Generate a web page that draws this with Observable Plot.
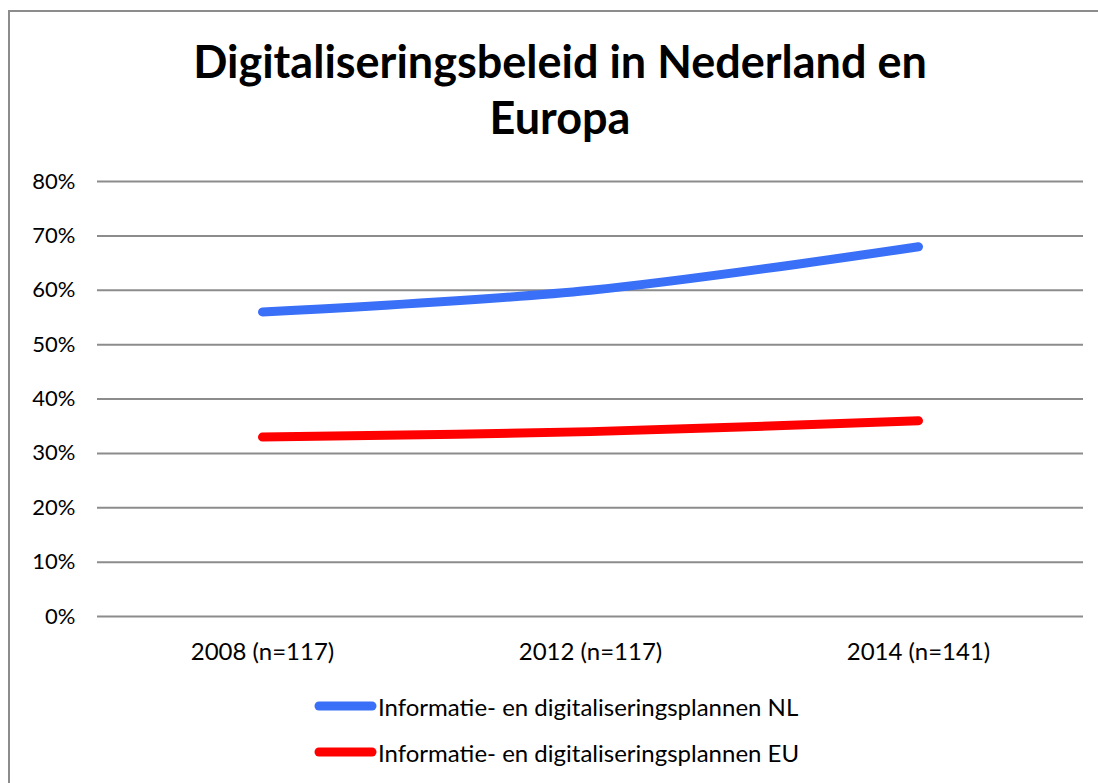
<!DOCTYPE html>
<html>
<head>
<meta charset="utf-8">
<script src="https://cdn.jsdelivr.net/npm/d3@7"></script>
<script src="https://cdn.jsdelivr.net/npm/@observablehq/plot@0.6"></script>
<style>
  html, body { margin: 0; padding: 0; background: #fff; overflow: hidden; }
  body { width: 1098px; height: 783px; position: relative; font-family: Lato, "Open Sans", sans-serif; }
  #frame { position: absolute; left: 8px; top: 10px; width: 1300px; height: 1000px; border-left: 2px solid #8c8c8c; border-top: 2px solid #8c8c8c; box-sizing: border-box; }
  #title { position: absolute; left: 0; top: 33px; width: 1120px; text-align: center; font-weight: bold; font-size: 45px; line-height: 56px; color: #000; }
  #chart { position: absolute; left: 0; top: 160px; }
  #legend { position: absolute; left: 313px; top: 683px; font-size: 24px; color: #000; }
  .item { display: flex; align-items: center; height: 46px; }
  .item svg { display: block; }
</style>
</head>
<body>
<div id="frame"></div>
<div id="title">Digitaliseringsbeleid in Nederland en<br>Europa</div>
<div id="chart"></div>
<div id="legend"></div>
<script>
const categories = ["2008 (n=117)", "2012 (n=117)", "2014 (n=141)"];
const seriesNames = ["Informatie- en digitaliseringsplannen NL", "Informatie- en digitaliseringsplannen EU"];
const valuesNL = [0.56, 0.60, 0.68];
const valuesEU = [0.33, 0.34, 0.36];
const colors = ["#3a6ff7", "#ff0000"];
const yTicks = [0, 0.1, 0.2, 0.3, 0.4, 0.5, 0.6, 0.7, 0.8];

const data = [
  ...categories.map((c, i) => ({cat: c, value: valuesNL[i], series: seriesNames[0]})),
  ...categories.map((c, i) => ({cat: c, value: valuesEU[i], series: seriesNames[1]}))
];

const chart = Plot.plot({
  width: 1098,
  height: 520,
  marginLeft: 97,
  marginRight: 15,
  marginTop: 21,
  marginBottom: 64,
  style: {fontFamily: "Lato, 'Open Sans', sans-serif", fontSize: "24px", color: "#000", background: "transparent"},
  x: {type: "point", domain: categories, padding: 0.5, label: null, tickSize: 0, tickPadding: 26},
  y: {domain: [0, 0.8], ticks: yTicks, tickFormat: d3.format(".0%"), label: null, tickSize: 0, tickPadding: 22},
  color: {domain: seriesNames, range: colors},
  marks: [
    Plot.ruleY(yTicks, {stroke: "#8c8c8c", strokeWidth: 2, strokeOpacity: 1}),
    Plot.line(data, {x: "cat", y: "value", z: "series", stroke: "series", strokeWidth: 9, strokeLinecap: "round", strokeLinejoin: "round", curve: "catmull-rom"})
  ]
});
chart.querySelectorAll("g[aria-label='y-axis tick label']").forEach(g => g.setAttribute("font-size", "22"));
chart.querySelectorAll("g[aria-label='y-axis tick label'], g[aria-label='x-axis tick label']").forEach(g => g.setAttribute("fill", "#000"));
document.getElementById("chart").appendChild(chart);

const legend = document.getElementById("legend");
seriesNames.forEach((name, i) => {
  const item = document.createElement("div");
  item.className = "item";
  const ns = "http://www.w3.org/2000/svg";
  const svg = document.createElementNS(ns, "svg");
  svg.setAttribute("width", 65);
  svg.setAttribute("height", 14);
  const ln = document.createElementNS(ns, "line");
  ln.setAttribute("x1", 6); ln.setAttribute("x2", 59);
  ln.setAttribute("y1", 7); ln.setAttribute("y2", 7);
  ln.setAttribute("stroke", colors[i]);
  ln.setAttribute("stroke-width", 9);
  ln.setAttribute("stroke-linecap", "round");
  svg.appendChild(ln);
  const span = document.createElement("span");
  span.textContent = name;
  item.appendChild(svg);
  item.appendChild(span);
  legend.appendChild(item);
});
</script>
</body>
</html>
